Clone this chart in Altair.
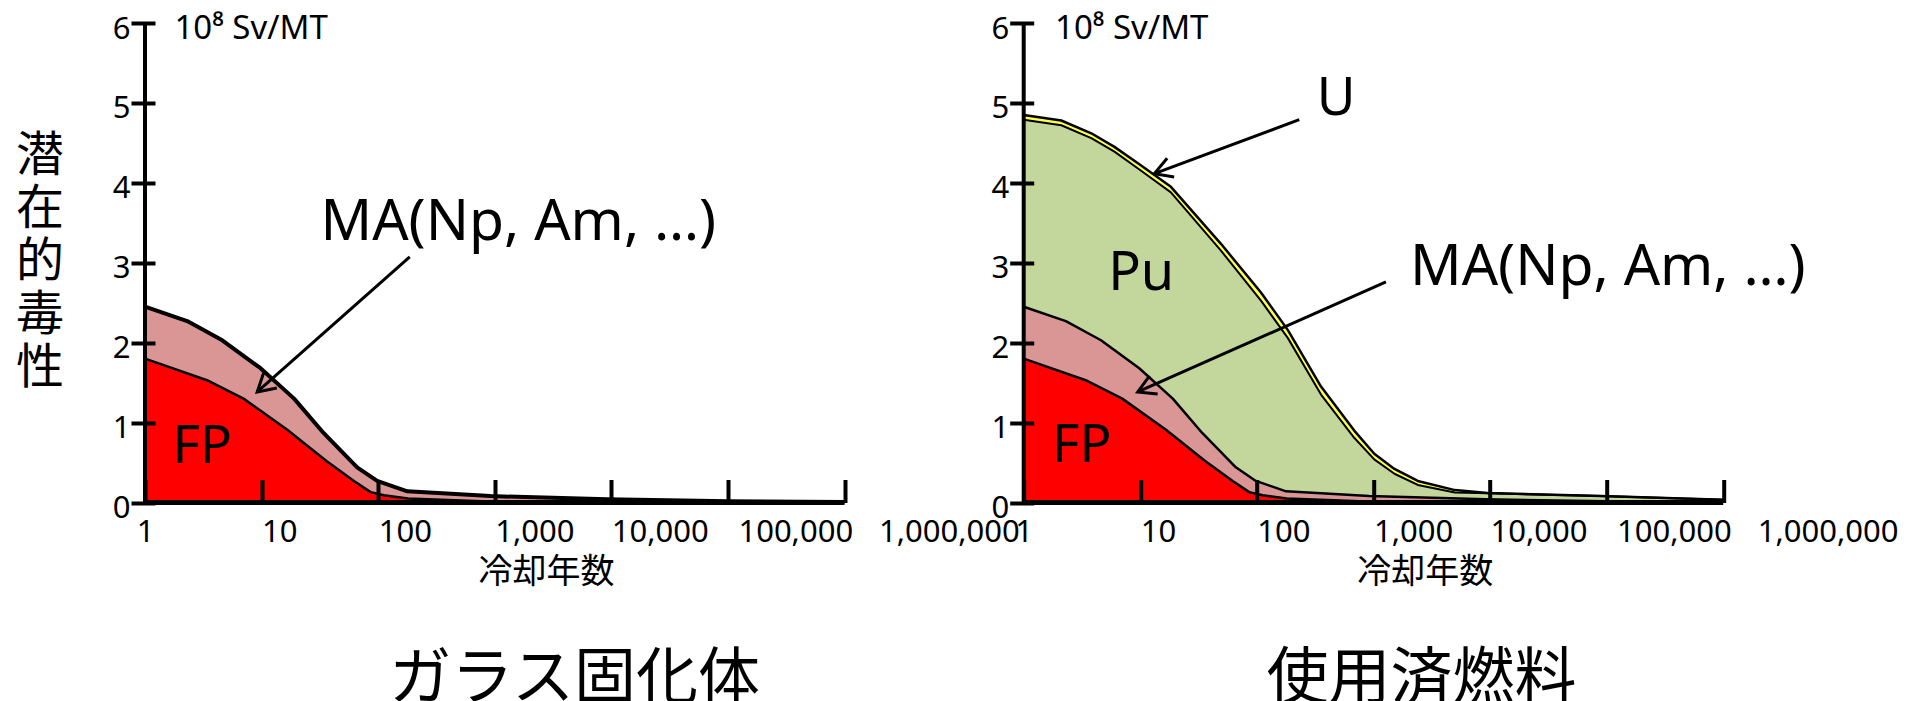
import math
import altair as alt
import pandas as pd

# ---------------- data ----------------
tick_years = [1, 10, 100, 1000, 10000, 100000, 1000000]
y_ticks = [0, 1, 2, 3, 4, 5, 6]

# FP (fission products) upper edge
fp_years = [1, 3.4, 7, 16.6, 36, 62, 86, 112, 180, 1000, 10000]
fp_top = [1.80, 1.53, 1.30, 0.91, 0.52, 0.27, 0.13, 0.09, 0.05, 0.01, 0.0]

# FP + MA upper edge
ma_years = [1, 2.3, 4.6, 9.8, 19, 34, 66, 98, 178, 920, 9200, 100000, 1000000]
ma_top = [2.45, 2.27, 2.03, 1.68, 1.30, 0.87, 0.44, 0.27, 0.14, 0.08, 0.04, 0.015, 0.005]

# spent fuel: FP + MA + Pu upper edge, and total incl. U
pu_years = [1, 2.1, 3.8, 6.0, 10.1, 18.3, 49, 108, 184, 355, 684, 1016, 1514, 2400,
            5000, 9550, 89000, 1000000]
pu_top = [4.79, 4.72, 4.56, 4.39, 4.155, 3.88, 3.155, 2.53, 2.06, 1.35, 0.81, 0.54, 0.36, 0.22,
          0.125, 0.115, 0.08, 0.035]
u_top = [4.85, 4.78, 4.62, 4.45, 4.22, 3.95, 3.24, 2.63, 2.16, 1.45, 0.90, 0.61, 0.42, 0.27,
         0.155, 0.12, 0.08, 0.035]

unit_text = "10⁸ Sv/MT"
y_title = ["潜", "在", "的", "毒", "性"]
x_title = "冷却年数"
panel_titles = ["ガラス固化体", "使用済燃料"]
ma_text = "MA(Np, Am, …)"

# ---------------- style / layout ----------------
W, H = 699.5, 479.5
FONT = "Noto Sans"
CJK = "Noto Sans CJK JP"
C_FP = "#FF0000"
C_MA = "#D99694"
C_PU = "#C3D69B"
C_U = "#FFFF50"

X_SCALE = alt.Scale(type="log", domain=[1, 1000000], nice=False)
Y_SCALE = alt.Scale(domain=[0, 6], nice=False)


def make_axes(right):
    x_axis = alt.Axis(
        values=tick_years, format=",d",
        offset=-23, tickSize=23, tickWidth=4,
        tickColor="black", domain=False, grid=False,
        labelFont=FONT, labelFontSize=31, labelColor="black", labelPadding=15,
        labelFlush=False, labelOverlap=False, labelBound=False,
        labelAlign={"condition": {"test": "datum.value == 1", "value": "center"}, "value": "left"},
        labelOffset={"condition": [{"test": "datum.value == 1000000", "value": 34},
                                   {"test": "datum.value == 100000", "value": 10}],
                     "value": 0},
        title=x_title, titleFont=CJK, titleFontSize=34, titleFontWeight="normal",
        titleColor="black", titleX=401, titleY=76, titleBaseline="top", titleAlign="center",
        zindex=1)
    y_kw = dict(
        values=y_ticks, offset=-10, tickSize=24, tickWidth=4, tickColor="black",
        domain=False, grid=False, labelFont=FONT, labelFontSize=31, labelColor="black",
        labelPadding=1, labelOffset=6, labelFlush=False, labelOverlap=False, zindex=1)
    if right:
        y_axis = alt.Axis(title=None, **y_kw)
    else:
        y_axis = alt.Axis(title=y_title, titleAngle=0, titleFont=CJK, titleFontSize=48,
                          titleFontWeight="normal", titleColor="black", titleLineHeight=53,
                          titleX=-115.5, titleY=109, titleAlign="center",
                          titleBaseline="top", **y_kw)
    return x_axis, y_axis


def panel(right):
    xa, ya = make_axes(right)

    def X(f):
        return alt.X(f"{f}:Q", scale=X_SCALE, axis=xa)

    def Y(f):
        return alt.Y(f"{f}:Q", scale=Y_SCALE, axis=ya)

    def band(years, vals, fill, lw):
        base = alt.Chart(pd.DataFrame({"year": years, "v": vals}))
        area = base.mark_area(color=fill, opacity=1).encode(x=X("year"), y=Y("v"))
        line = base.mark_line(color="black", strokeWidth=lw, strokeJoin="round").encode(
            x=X("year"), y=Y("v"))
        return area, line

    def arrows(rows):
        recs = []
        for x0, y0, x1, y1 in rows:
            dx = (math.log10(x1) - math.log10(x0)) * W / 6
            dy = -(y1 - y0) * H / 6
            ang = math.degrees(math.atan2(dy, dx)) % 360
            recs.append({"year": x0, "v": y0, "x1": x1, "y1": y1, "ang": ang})
        base = alt.Chart(pd.DataFrame(recs))
        shaft = base.mark_rule(color="black", strokeWidth=3).encode(
            x=X("year"), x2="x1:Q", y=Y("v"), y2="y1:Q")
        head = base.mark_point(
            shape="M -0.87 -0.5 L 0 0 L -0.87 0.5", filled=False, color="black",
            strokeWidth=3, size=1600, opacity=1, strokeJoin="miter").encode(
            x=X("x1"), y=Y("y1"), angle=alt.Angle("ang:Q", scale=None))
        return [shaft, head]

    def notes(rows):
        df = pd.DataFrame(rows, columns=["t", "year", "v", "fs"])
        return alt.Chart(df).mark_text(align="left", baseline="alphabetic", font=FONT,
                                       color="black").encode(
            x=X("year"), y=Y("v"), text="t:N",
            size=alt.Size("fs:Q", scale=None, legend=None))

    layers, lines = [], []
    if right:
        for yrs, vals, col, lw in [(pu_years, u_top, C_U, 2.5), (pu_years, pu_top, C_PU, 2)]:
            a, l = band(yrs, vals, col, lw)
            layers.append(a); lines.append(l)
    a, l = band(ma_years, ma_top, C_MA, 2.5 if right else 4)
    layers.append(a); lines.append(l)
    a, l = band(fp_years, fp_top, C_FP, 2.5)
    layers.append(a); lines.append(l)

    axis_df = pd.DataFrame({"year": [1], "x1": [1000000], "v": [0], "y1": [6]})
    xrule = alt.Chart(axis_df).mark_rule(color="black", strokeWidth=5).encode(
        x=X("year"), x2="x1:Q", y=Y("v"))
    yrule = alt.Chart(axis_df).mark_rule(color="black", strokeWidth=4).encode(
        x=X("year"), y=Y("v"), y2="y1:Q")

    if right:
        txt = notes([
            ("U", 327, 4.85, 53),
            ("Pu", 5.3, 2.66, 54),
            (ma_text, 2056, 2.722, 57),
            ("FP", 1.75, 0.507, 53),
            (unit_text, 1.86, 5.80, 33),
        ])
        arr = arrows([(231, 4.791, 13.2, 4.115), (1280, 2.76, 9.5, 1.383)])
        title_x = 397.8
        ptitle = panel_titles[1]
    else:
        txt = notes([
            (ma_text, 32.0, 3.285, 57),
            ("FP", 1.72, 0.494, 53),
            (unit_text, 1.79, 5.80, 33),
        ])
        arr = arrows([(186.6, 3.073, 9.17, 1.383)])
        title_x = 429.5
        ptitle = panel_titles[0]

    bottom = alt.Chart(pd.DataFrame({"t": [ptitle]})).mark_text(
        align="center", baseline="top", font=CJK, fontSize=62, color="black").encode(
        text="t:N", x=alt.value(title_x), y=alt.value(626.7))

    return alt.layer(*layers, *lines, xrule, yrule, txt, *arr, bottom).properties(
        width=W, height=H)


chart = alt.hconcat(panel(False), panel(True), spacing=178.7, bounds="flush").properties(
    padding={"left": 7, "top": 4, "right": 5, "bottom": 5},
    background="white",
).configure_view(stroke=None)

chart.save("out.html", embed_options={"renderer": "svg", "actions": False})
